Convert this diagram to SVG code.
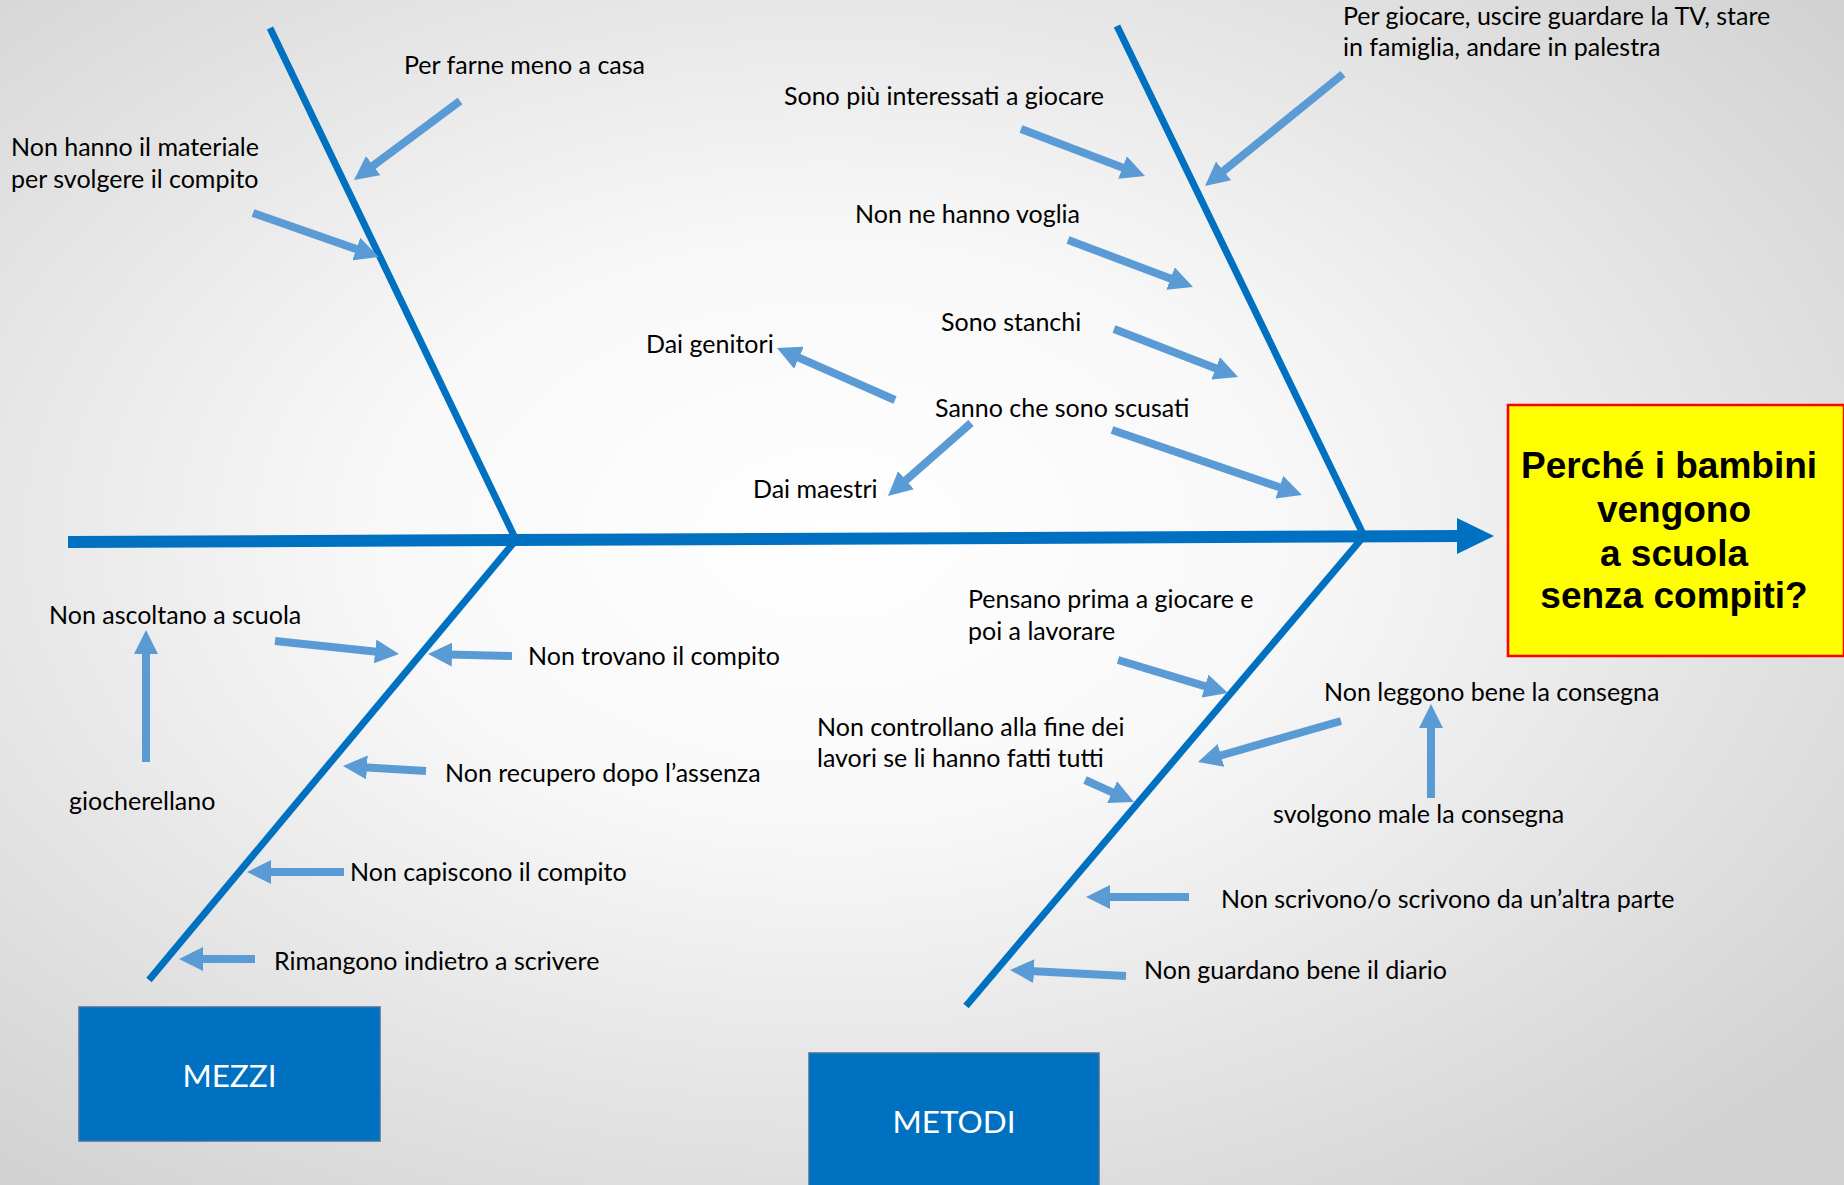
<svg xmlns="http://www.w3.org/2000/svg" width="1844" height="1185" viewBox="0 0 1844 1185">
<defs>
<radialGradient id="bg" cx="0.45" cy="0.45" r="0.7">
<stop offset="0" stop-color="#ffffff"/>
<stop offset="0.35" stop-color="#f8f8f8"/>
<stop offset="1" stop-color="#d2d2d2"/>
</radialGradient>
<marker id="ah" markerUnits="strokeWidth" markerWidth="3" markerHeight="3" refX="0.5" refY="1.5" orient="auto" viewBox="0 0 3 3">
<path d="M0,0 L3,1.5 L0,3 z" fill="#5B9BD5"/>
</marker>
</defs>
<style>
.bone{stroke:#0070C0;stroke-width:7;fill:none;stroke-linecap:butt}
.spine{stroke:#0070C0;stroke-width:12;fill:none}
.arr{stroke:#5B9BD5;stroke-width:8;fill:none;marker-end:url(#ah)}
.lbl{font-family:Lato,"Open Sans","Liberation Sans",sans-serif;font-size:25px;fill:#000}
.cat{fill:#0070C0;stroke:#41719C;stroke-width:1.5}
.cattxt{font-family:Lato,"Open Sans","Liberation Sans",sans-serif;font-size:31.5px;fill:#fff;text-anchor:middle}
.ttl{font-family:"Liberation Sans",Arial,sans-serif;font-weight:bold;font-size:37px;fill:#000;text-anchor:middle}
</style>
<rect x="0" y="0" width="1844" height="1185" fill="url(#bg)"/>

<g id="skeleton">
<line class="spine" x1="68" y1="542" x2="1462" y2="536"/>
<polygon points="1457,518 1494,536 1457,554" fill="#0070C0"/>
<line class="bone" x1="270" y1="28" x2="516" y2="540"/>
<line class="bone" x1="516" y1="540" x2="149" y2="980"/>
<line class="bone" x1="1117" y1="26" x2="1364" y2="536"/>
<line class="bone" x1="1364" y1="536" x2="966" y2="1006"/>
</g>

<g id="connectors">
<line class="arr" x1="460" y1="101" x2="370" y2="168"/>
<line class="arr" x1="253" y1="213" x2="360" y2="250.4"/>
<line class="arr" x1="1021" y1="129" x2="1126.3" y2="168.9"/>
<line class="arr" x1="1343" y1="74" x2="1220.5" y2="173.4"/>
<line class="arr" x1="1068" y1="240" x2="1174.3" y2="280"/>
<line class="arr" x1="1114" y1="329" x2="1219.4" y2="369.8"/>
<line class="arr" x1="895" y1="400" x2="795.3" y2="356.1"/>
<line class="arr" x1="1112" y1="430" x2="1283.1" y2="488.5"/>
<line class="arr" x1="971" y1="423" x2="903" y2="482.8"/>
<line class="arr" x1="275" y1="641" x2="379.1" y2="651.9"/>
<line class="arr" x1="512" y1="656" x2="448" y2="654.5"/>
<line class="arr" x1="146" y1="762" x2="146" y2="650"/>
<line class="arr" x1="426" y1="771" x2="363" y2="767.2"/>
<line class="arr" x1="344" y1="872" x2="267" y2="872"/>
<line class="arr" x1="255" y1="959" x2="199" y2="959"/>
<line class="arr" x1="1118" y1="660" x2="1208.8" y2="687.3"/>
<line class="arr" x1="1341" y1="721" x2="1217.2" y2="756.5"/>
<line class="arr" x1="1085" y1="780" x2="1115.8" y2="793.8"/>
<line class="arr" x1="1431" y1="798" x2="1431" y2="724"/>
<line class="arr" x1="1189" y1="897" x2="1106" y2="897"/>
<line class="arr" x1="1126" y1="976" x2="1030" y2="971"/>
</g>

<g id="effect">
<rect x="1508" y="405" width="336" height="251" fill="#FFFF00" stroke="#FF0000" stroke-width="2.5"/>
<text class="ttl" x="1669" y="478">Perché i bambini</text>
<text class="ttl" x="1674" y="522">vengono</text>
<text class="ttl" x="1674" y="566">a scuola</text>
<text class="ttl" x="1674" y="608">senza compiti?</text>
</g>

<g id="cat-mezzi">
<rect class="cat" x="79" y="1007" width="301" height="134"/>
<text class="cattxt" x="229.5" y="1087">MEZZI</text>
</g>
<g id="cat-metodi">
<rect class="cat" x="809" y="1053" width="290" height="140"/>
<text class="cattxt" x="954" y="1133">METODI</text>
</g>

<g id="labels-mezzi-top">
<text class="lbl" x="404" y="74">Per farne meno a casa</text>
<text class="lbl" x="11" y="156">Non hanno il materiale</text>
<text class="lbl" x="11" y="188">per svolgere il compito</text>
</g>
<g id="labels-metodi-top">
<text class="lbl" x="1343" y="25">Per giocare, uscire guardare la TV, stare</text>
<text class="lbl" x="1343" y="56">in famiglia, andare in palestra</text>
<text class="lbl" x="784" y="105">Sono più interessati a giocare</text>
<text class="lbl" x="855" y="223">Non ne hanno voglia</text>
<text class="lbl" x="941" y="331">Sono stanchi</text>
<text class="lbl" x="646" y="353">Dai genitori</text>
<text class="lbl" x="935" y="417">Sanno che sono scusati</text>
<text class="lbl" x="753" y="498">Dai maestri</text>
</g>
<g id="labels-mezzi-bottom">
<text class="lbl" x="49" y="624">Non ascoltano a scuola</text>
<text class="lbl" x="528" y="665">Non trovano il compito</text>
<text class="lbl" x="69" y="810">giocherellano</text>
<text class="lbl" x="445" y="782">Non recupero dopo l’assenza</text>
<text class="lbl" x="350" y="881">Non capiscono il compito</text>
<text class="lbl" x="274" y="970">Rimangono indietro a scrivere</text>
</g>
<g id="labels-metodi-bottom">
<text class="lbl" x="968" y="608">Pensano prima a giocare e</text>
<text class="lbl" x="968" y="640">poi a lavorare</text>
<text class="lbl" x="1324" y="701">Non leggono bene la consegna</text>
<text class="lbl" x="817" y="736">Non controllano alla fine dei</text>
<text class="lbl" x="817" y="767">lavori se li hanno fatti tutti</text>
<text class="lbl" x="1273" y="823">svolgono male la consegna</text>
<text class="lbl" x="1221" y="908">Non scrivono/o scrivono da un’altra parte</text>
<text class="lbl" x="1144" y="979">Non guardano bene il diario</text>
</g>
</svg>
